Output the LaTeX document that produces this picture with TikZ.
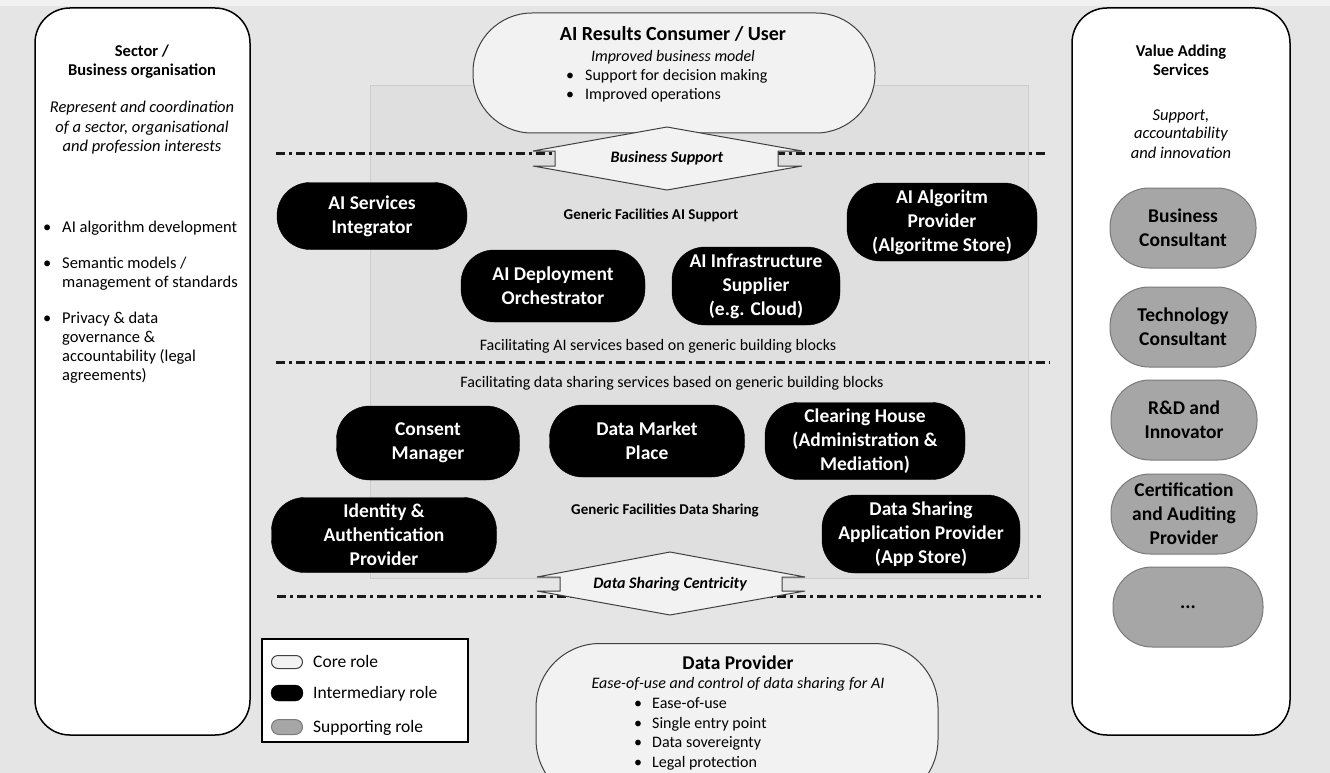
\documentclass[tikz,border=0pt]{standalone}
\usepackage{fontspec}
\setmainfont{Carlito}
\definecolor{bgc}{HTML}{E5E5E5}
\definecolor{topc}{HTML}{F2F2F2}
\definecolor{innerc}{HTML}{DFDFDF}
\definecolor{innerb}{HTML}{CDCDCD}
\definecolor{corec}{HTML}{F2F2F2}
\definecolor{coreb}{HTML}{404040}
\definecolor{grayc}{HTML}{A6A6A6}
\definecolor{grayb}{HTML}{7A7A7A}
\definecolor{dashc}{HTML}{1A1A1A}
\newcommand\fsR{\fontsize{16}{19.5}\selectfont}
\newcommand\fsP{\fontsize{16.5}{19.5}\selectfont}
\newcommand\fsT{\fontsize{16.5}{19.5}\selectfont\bfseries}
\newcommand\fsB{\fontsize{19.5}{24}\selectfont\bfseries}
\newcommand\fsL{\fontsize{17.5}{20}\selectfont}
\begin{document}
\begin{tikzpicture}[x=1pt,y=-1pt,
  blk/.style={draw=black, fill=black, text=white, rounded corners=33pt, align=center, inner sep=0pt, font=\fsB},
  gry/.style={draw=grayb, line width=1pt, fill=grayc, rounded corners=39pt, align=center, inner sep=0pt, font=\fsB, minimum width=146pt, minimum height=80pt},
  core/.style={draw=coreb, line width=1pt, fill=corec},
  panel/.style={draw=black, line width=1.5pt, fill=white, rounded corners=35pt},
  txt/.style={inner sep=0pt, anchor=base, font=\fsR},
  txtw/.style={inner sep=0pt, anchor=base west, font=\fsR},
  ptxt/.style={inner sep=0pt, anchor=base west, font=\fsP},
  dashdot/.style={draw=dashc, line width=3pt, dash pattern=on 9pt off 4pt on 3pt off 4pt},
  dblarrow/.style={draw=coreb, line width=1pt, fill=corec},
  lab/.style={inner sep=0pt, font=\fontsize{15}{18}\selectfont\bfseries},
  fac/.style={inner sep=0pt, font=\fsR},
]
\useasboundingbox (0,0) rectangle (1330,773);
\clip (0,0) rectangle (1330,773);
\fill[bgc] (0,0) rectangle (1330,773);
\fill[topc] (0,0) rectangle (1330,6);

% side panels
\draw[panel] (35,8) rectangle (250,735);
\draw[panel] (1072,8) rectangle (1290,735);

% inner area
\draw[draw=innerb, fill=innerc, line width=0.8pt] (370,85) rectangle (1028,578);

% left panel text
\node[txt, font=\fsT] (lt1) at (142,57) {Sector /};
\node[txt, font=\fsT] (lt2) at (142,76) {Business organisation};
\node[txt, font=\fsP\itshape] (li1) at (142,113) {Represent and coordination};
\node[txt, font=\fsP\itshape] (li2) at (142,132) {of a sector, organisational};
\node[txt, font=\fsP\itshape] (li3) at (142,151) {and profession interests};
\node[ptxt] (lb1) at (43,232) {•};
\node[ptxt] (lb2) at (43,268) {•};
\node[ptxt] (lb3) at (43,323) {•};
\node[ptxt] (lx1) at (62,232) {AI algorithm development};
\node[ptxt] (lx2) at (62,268) {Semantic models /};
\node[ptxt] (lx3) at (62,287) {management of standards};
\node[ptxt] (lx4) at (62,323) {Privacy \& data};
\node[ptxt] (lx5) at (62,342) {governance \&};
\node[ptxt] (lx6) at (62,361) {accountability (legal};
\node[ptxt] (lx7) at (62,380) {agreements)};

% right panel text
\node[txt, font=\fsT] (rt1) at (1181,57) {Value Adding};
\node[txt, font=\fsT] (rt2) at (1181,76) {Services};
\node[txt, font=\fsP\itshape] (ri1) at (1181,121) {Support,};
\node[txt, font=\fsP\itshape] (ri2) at (1181,139) {accountability};
\node[txt, font=\fsP\itshape] (ri3) at (1181,158) {and innovation};

% supporting roles
\node[gry] (bc) at (1183,228) {Business\\Consultant};
\node[gry] (tc) at (1183,327) {Technology\\Consultant};
\node[gry] (rd) at (1184,420) {R\&D and\\Innovator};
\node[gry] (ca) at (1184,514) {Certification\\and Auditing\\Provider};
\node[gry, minimum width=150pt] (more) at (1188,607) {...};

% dash-dot separators
\coordinate (s1a) at (276,153); \coordinate (s1b) at (1045,153);
\coordinate (s2a) at (276,362); \coordinate (s2b) at (1050,362);
\coordinate (s3a) at (277,596); \coordinate (s3b) at (1041,596);
\draw[dashdot] (s1a) -- (s1b);
\draw[dashdot] (s2a) -- (s2b);
\draw[dashdot] (s3a) -- (s3b);

% top core role
\node[core, minimum width=402pt, minimum height=120pt, rounded corners=59pt] (user) at (674,73) {};
\node[txt, font=\fontsize{20}{24}\selectfont\bfseries] (ut) at (673,41) {AI Results Consumer / User};
\node[txt, font=\fsR\itshape] (ui) at (673,62) {Improved business model};
\node[txtw] (ub1) at (566,81) {•};
\node[txtw] (ub2) at (566,100) {•};
\node[txtw] (ux1) at (585,81) {Support for decision making};
\node[txtw] (ux2) at (585,100) {Improved operations};

% business support double arrow
\draw[dblarrow] (667,127) -- (802,151) -- (778,151) -- (778,166) -- (802,166) -- (667,190)
  -- (533,166) -- (555,166) -- (555,151) -- (533,151) -- cycle;
\node[inner sep=0pt, font=\fontsize{16}{19}\selectfont\bfseries\itshape] (bs) at (667,158) {Business Support};

% AI layer
\node[blk, minimum width=190pt, minimum height=67pt] (svc) at (372,216) {AI Services\\Integrator};
\node[lab] (gai) at (651,215) {Generic Facilities AI Support};
\node[blk, minimum width=190pt, minimum height=78pt] (alg) at (942,222) {AI Algoritm\\Provider\\(Algoritme Store)};
\node[blk, minimum width=184pt, minimum height=72pt] (dep) at (553,286) {AI Deployment\\Orchestrator};
\node[blk, minimum width=168pt, minimum height=78pt] (inf) at (756,286) {AI Infrastructure\\Supplier\\(e.g. Cloud)};
\node[fac] (fai) at (658,346) {Facilitating AI services based on generic building blocks};

% data sharing layer
\node[fac] (fds) at (672,383) {Facilitating data sharing services based on generic building blocks};
\node[blk, minimum width=183pt, minimum height=74pt] (con) at (428,443) {Consent\\Manager};
\node[blk, minimum width=195pt, minimum height=72pt] (mkt) at (647,441) {Data Market\\Place};
\node[blk, minimum width=200pt, minimum height=77pt] (clr) at (865,441) {Clearing House\\(Administration \&\\Mediation)};
\node[blk, minimum width=225pt, minimum height=75pt] (idp) at (384,535) {Identity \&\\Authentication\\Provider};
\node[lab] (gds) at (665,510) {Generic Facilities Data Sharing};
\node[blk, minimum width=198pt, minimum height=78pt] (app) at (921,534) {Data Sharing\\Application Provider\\(App Store)};

% data sharing centricity double arrow
\draw[dblarrow] (670,552) -- (805,577) -- (782,577) -- (782,591) -- (805,591) -- (670,615)
  -- (537,591) -- (560,591) -- (560,577) -- (537,577) -- cycle;
\node[inner sep=0pt, font=\fontsize{16}{19}\selectfont\bfseries\itshape] (dsc) at (670,584) {Data Sharing Centricity};

% legend
\draw[draw=black, line width=1.5pt, fill=white] (262,639) rectangle (468,742);
\node[core, minimum width=31pt, minimum height=13pt, rounded corners=6.5pt, inner sep=0pt] (lg1) at (287,662) {};
\node[draw=black, fill=black, minimum width=32pt, minimum height=16pt, rounded corners=8pt, inner sep=0pt] (lg2) at (287,693) {};
\node[draw=grayb, fill=grayc, line width=1pt, minimum width=31pt, minimum height=15pt, rounded corners=7.5pt, inner sep=0pt] (lg3) at (287,727) {};
\node[txtw, font=\fsL] (lt1x) at (313,667) {Core role};
\node[txtw, font=\fsL] (lt2x) at (313,698) {Intermediary role};
\node[txtw, font=\fsL] (lt3x) at (313,732) {Supporting role};

% bottom core role
\node[core, minimum width=402pt, minimum height=160pt, rounded corners=64pt, anchor=north] (dp) at (737,643) {};
\node[txt, font=\fontsize{19.5}{24}\selectfont\bfseries] (dpt) at (738,669) {Data Provider};
\node[txt, font=\fsR\itshape] (dpi) at (738,688) {Ease-of-use and control of data sharing for AI};
\node[txtw] (db1) at (634,708) {•};
\node[txtw] (db2) at (634,728) {•};
\node[txtw] (db3) at (634,747) {•};
\node[txtw] (db4) at (634,767) {•};
\node[txtw] (dx1) at (652,708) {Ease-of-use};
\node[txtw] (dx2) at (652,728) {Single entry point};
\node[txtw] (dx3) at (652,747) {Data sovereignty};
\node[txtw] (dx4) at (652,767) {Legal protection};
\end{tikzpicture}
\end{document}
